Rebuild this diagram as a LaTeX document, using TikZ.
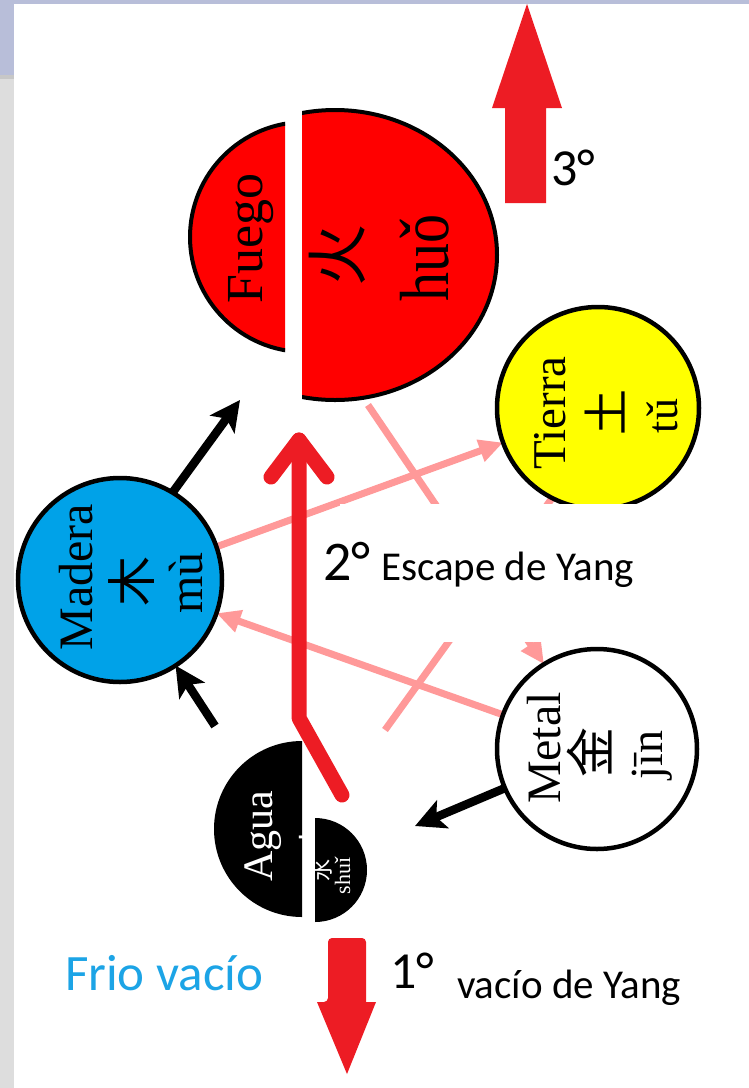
\documentclass[tikz,border=0pt]{standalone}
\usepackage{fontspec}
\setmainfont{Liberation Serif}
\newfontfamily\calib{Carlito}
\newfontfamily\cjk{Noto Sans CJK SC}
\usetikzlibrary{arrows.meta}
\definecolor{fire}{RGB}{255,0,0}
\definecolor{redarr}{RGB}{237,28,36}
\definecolor{pinkl}{RGB}{255,153,153}
\definecolor{woodblue}{RGB}{0,162,232}
\definecolor{coldblue}{RGB}{28,164,230}
\definecolor{earth}{RGB}{255,255,0}
\definecolor{slidebar}{RGB}{184,190,217}
\definecolor{slidegray}{RGB}{221,221,221}
\newcommand\fsz[1]{\fontsize{#1}{#1}\selectfont}
\begin{document}
\begin{tikzpicture}[x=1pt,y=-1pt,
  elem/.style={circle, draw=black, line width=4.5pt, inner sep=0pt, outer sep=0pt},
  vtext/.style={rotate=90, inner sep=0pt, outer sep=0pt, anchor=base},
  ctext/.style={rotate=90, inner sep=0pt, outer sep=0pt, anchor=center},
  flat/.style={inner sep=0pt, outer sep=0pt, anchor=base west},
  pinkarrow/.style={draw=pinkl, line width=7pt, -{Triangle[length=24pt,width=22pt]}},
  pinkline/.style={draw=pinkl, line width=7pt},
  blackarrow/.style={draw=black, line width=8.5pt, -{Stealth[length=30pt,width=30pt,inset=7pt]}},
  redline/.style={draw=redarr, line width=15pt, line cap=round, line join=round},
  blockarrow/.style={fill=redarr}
]
\useasboundingbox (0,0) rectangle (749,1088);
% slide background
\fill[white] (0,0) rectangle (749,1088);
\fill[slidegray] (0,79) rectangle (14,1088);
\fill[black!22] (0,75) rectangle (14,79);
\fill[slidebar] (0,0) rectangle (14,75);
\fill[slidebar] (0,0) rectangle (749,4);

% named points of the cut shapes
\coordinate (fueS) at (368,405);
\coordinate (fueSW) at (240,400);
\coordinate (aguN) at (342,795);
\coordinate (aguNW) at (215,726);
\coordinate (aguE) at (415,826);
\coordinate (aguT) at (385,730);
\coordinate (bend) at (299,718);
\coordinate (yangtop) at (299,440);
\coordinate (chevL) at (271,477);
\coordinate (chevR) at (327,477);

% circle node positions (Madera, Metal, Tierra)
\path (120,580) node[circle, minimum size=204pt, inner sep=0pt, outer sep=0pt] (mad) {};
\path (597,749) node[circle, minimum size=200pt, inner sep=0pt, outer sep=0pt] (met) {};
\path (598,408) node[circle, minimum size=202pt, inner sep=0pt, outer sep=0pt] (tie) {};

% pink control lines
\draw[pinkarrow] (mad.19) -- (tie.200);
\draw[pinkarrow] (met.160) -- (mad.341);
\draw[pinkarrow] (fueS) -- (met.122);
\draw[pinkline] (tie.243) -- (aguT);

% Tierra
\node[elem, fill=earth, minimum size=202pt] (tieC) at (tie) {};
% white text box hiding parts
\fill[white] (340,504) rectangle (710,642);

% Madera, Metal
\node[elem, fill=woodblue, minimum size=204pt] (madC) at (mad) {};
\node[elem, fill=white, minimum size=200pt] (metC) at (met) {};

% Fuego (cut in two)
\begin{scope}
  \clip (150,90) rectangle (285,400);
  \filldraw[fill=fire, draw=black, line width=4pt] (305,237) circle (115pt);
\end{scope}
\begin{scope}
  \clip (302,90) rectangle (520,420);
  \filldraw[fill=fire, draw=black, line width=4pt] (335,255) ellipse [x radius=162pt, y radius=145pt];
\end{scope}

% Agua (cut in two)
\begin{scope}
  \clip (200,730) rectangle (302,930);
  \fill[black] (302,829) circle (88pt);
  \node[ctext, white, font=\cjk\fsz{36}] (aguHan) at (316,837) {水};
\end{scope}
\begin{scope}
  \clip (315,810) rectangle (380,930);
  \fill[black] (315,870) circle (52pt);
\end{scope}

% black generating arrows
\draw[blackarrow] (mad.59) -- (fueSW);
\draw[blackarrow] (aguNW) -- (mad.303);
\draw[blackarrow] (met.203) -- (aguE);

% red 2nd arrow
\draw[redline] (aguN) -- (bend) -- (yangtop);
\draw[redline] (chevL) -- (yangtop) -- (chevR);

% red block arrows
\fill[blockarrow] (505,203) -- (505,108) -- (492,108) -- (527,4) -- (562,108) -- (546,108) -- (546,203) -- cycle;
\fill[blockarrow, rounded corners=4pt] (366,1002) -- (366,938) -- (328,938) -- (328,1002) [sharp corners] -- (317,1002) -- (347,1074) -- (376,1002) -- cycle;

% texts in circles
\node[vtext, font=\fsz{52}] (fueT) at (262,238) {Fuego};
\node[ctext, font=\cjk\fsz{62}] (fueH) at (337,255) {火};
\node[vtext, font=\fsz{58}] (fueP) at (448,258) {\scalebox{1}[1.2]{huǒ}};

\node[vtext, font=\fsz{48}] (madT) at (92,577) {Madera};
\node[ctext, font=\cjk\fsz{50}] (madH) at (132,581) {木};
\node[vtext, font=\fsz{48}] (madP) at (202,583) {mù};

\node[vtext, font=\fsz{47}] (tieT) at (565,413) {Tierra};
\node[ctext, font=\cjk\fsz{46}] (tieH) at (605,412) {土};
\node[vtext, font=\fsz{44}] (tieP) at (677,416) {tǔ};

\node[vtext, font=\fsz{48}] (metT) at (560,748) {Metal};
\node[ctext, font=\cjk\fsz{50}] (metH) at (590,752) {金};
\node[vtext, font=\fsz{46}] (metP) at (662,755) {jīn};

\node[vtext, white, font=\fsz{42}] (aguT2) at (272,836) {Agua};
\node[ctext, white, font=\cjk\fsz{22}] (aguH2) at (322,870) {水};
\node[vtext, white, font=\fsz{22}] (aguP) at (350,876) {shuǐ};

% labels
\node[flat, font=\calib\fsz{52}] (l3) at (551,185) {3°};
\node[flat, font=\calib\fsz{56}] (l2) at (323,580) {2°};
\node[flat, font=\calib\fsz{41}] (l2b) at (381,580) {Escape de Yang};
\node[flat, font=\calib\fsz{52}] (l1) at (390,988) {1°};
\node[flat, font=\calib\fsz{41}] (l1b) at (457,998) {vacío de Yang};
\node[flat, coldblue, font=\calib\fsz{51}] (frio) at (65,990) {Frio vacío};
\end{tikzpicture}
\end{document}
